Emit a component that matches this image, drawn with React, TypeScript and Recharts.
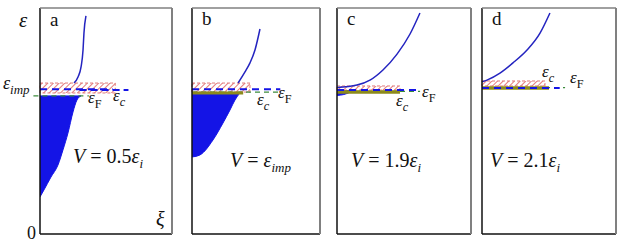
import React from "react";
import { ComposedChart, Line, Area, XAxis, YAxis, ReferenceLine, ReferenceArea } from "recharts";

// impurity level, shared by all panels (fraction of panel height)
const epsImp = 0.646;

// panel a
const aFillXi = [0, 0.03, 0.083, 0.136, 0.174, 0.212, 0.25, 0.28, 0.31];
const aFillLo = [0.164, 0.195, 0.252, 0.305, 0.372, 0.447, 0.54, 0.593, 0.611];
const aEF = 0.611;
const aUpXi = [0.258, 0.288, 0.311, 0.326, 0.333, 0.348];
const aUpEps = [0.668, 0.695, 0.739, 0.814, 0.889, 0.965];

// panel b
const bFillXi = [0, 0.0625, 0.164, 0.242, 0.297, 0.336, 0.367];
const bFillLo = [0.341, 0.35, 0.416, 0.491, 0.549, 0.593, 0.619];
const bEF = 0.621;
const bUpXi = [0.36, 0.414, 0.453, 0.492, 0.531];
const bUpEps = [0.668, 0.717, 0.757, 0.814, 0.907];

// panel c
const cFillXi = [0, 0.05, 0.1];
const cFillLo = [0.613, 0.617, 0.628];
const cEF = 0.635;
const cUpXi = [0, 0.149, 0.246, 0.343, 0.448, 0.545, 0.619];
const cUpEps = [0.648, 0.659, 0.681, 0.726, 0.796, 0.885, 0.978];

// panel d
const dUpXi = [0, 0.037, 0.134, 0.231, 0.336, 0.433, 0.507];
const dUpEps = [0.673, 0.681, 0.712, 0.757, 0.814, 0.889, 0.978];

const BLUE = "#1414e6";
const LINE = "#2424c0";
const OLIVE = "#8c8a1c";
const GREEN = "#3c8c3c";

const toRows = (xs: number[], ys: number[]) => xs.map((xi, i) => ({ xi, e: ys[i] }));
const toRange = (xs: number[], lo: number[], hi: number) =>
  xs.map((xi, i) => ({ xi, r: [lo[i], hi] }));

type Band = { x2: number; y1: number; y2: number };
type Seg = { x1: number; x2: number; y: number; color: string; dash?: string; w?: number };

type PanelProps = {
  left: number;
  width: number;
  fill?: { xi: number; r: number[] }[];
  upper: { xi: number; e: number }[];
  band: Band;
  segs: Seg[];
};

const ML = 10;

function Panel({ left, width, fill, upper, band, segs }: PanelProps) {
  return (
    <div style={{ position: "absolute", left: left - ML, top: 4 }}>
      <ComposedChart width={width + ML + 4} height={234} margin={{ top: 4, right: 4, bottom: 4, left: ML }}>
        <XAxis dataKey="xi" type="number" domain={[0, 1]} hide allowDataOverflow />
        <YAxis type="number" domain={[0, 1]} hide allowDataOverflow />
        {fill && (
          <Area
            data={fill}
            dataKey="r"
            type="monotone"
            stroke={BLUE}
            strokeWidth={1}
            fill={BLUE}
            fillOpacity={1}
            isAnimationActive={false}
          />
        )}
        {segs.map((s, i) => (
          <ReferenceLine
            key={i}
            segment={[{ x: s.x1, y: s.y }, { x: s.x2, y: s.y }]}
            stroke={s.color}
            strokeWidth={s.w ?? 1.5}
            strokeDasharray={s.dash}
            ifOverflow="visible"
          />
        ))}
        <ReferenceArea
          x1={0}
          x2={band.x2}
          y1={band.y1}
          y2={band.y2}
          fill="url(#hatch)"
          fillOpacity={1}
          stroke="#e07a7a"
          strokeDasharray="3 2"
          strokeWidth={1}
        />
        <Line
          data={upper}
          dataKey="e"
          type="monotone"
          stroke={LINE}
          strokeWidth={1.5}
          dot={false}
          isAnimationActive={false}
        />
        <ReferenceLine x={0} stroke="#111" strokeWidth={1.5} />
        <ReferenceLine y={0} stroke="#111" strokeWidth={1.5} />
        <ReferenceLine x={1} stroke="#808080" strokeWidth={2} />
        <ReferenceLine y={1} stroke="#808080" strokeWidth={1.5} />
      </ComposedChart>
    </div>
  );
}

const serif = "Liberation Serif, Times New Roman, DejaVu Serif, serif";

function Eps({ x, y, sub, size = 17, roman = false }: { x: number; y: number; sub: string; size?: number; roman?: boolean }) {
  return (
    <text x={x} y={y} style={{ fontFamily: serif }} fontSize={size} fill="#111">
      <tspan fontStyle="italic">ε</tspan>
      <tspan dy={size * 0.3} fontSize={size * 0.72} fontStyle={roman ? "normal" : "italic"}>
        {sub}
      </tspan>
    </text>
  );
}

function VLabel({ x, y, pre, sub }: { x: number; y: number; pre: string; sub: string }) {
  return (
    <text x={x} y={y} style={{ fontFamily: serif }} fontSize={20} fill="#111">
      <tspan fontStyle="italic">V</tspan>
      <tspan>{" = " + pre}</tspan>
      <tspan fontStyle="italic">ε</tspan>
      <tspan dy={5} fontSize={13} fontStyle="italic">
        {sub}
      </tspan>
    </text>
  );
}

export default function App() {
  return (
    <div style={{ position: "absolute", left: 0, top: 0, width: 624, height: 249, background: "#fff", overflow: "hidden" }}>
      <svg width={0} height={0} style={{ position: "absolute" }}>
        <defs>
          <pattern id="hatch" width={4} height={4} patternUnits="userSpaceOnUse" patternTransform="rotate(45)">
            <rect width={4} height={4} fill="#fff" fillOpacity={0.6} />
            <line x1={0} y1={0} x2={0} y2={4} stroke="#e06a6a" strokeWidth={1.8} />
          </pattern>
        </defs>
      </svg>

      <Panel
        left={40}
        width={132}
        fill={toRange(aFillXi, aFillLo, aEF)}
        upper={toRows(aUpXi, aUpEps)}
        band={{ x2: 0.57, y1: 0.624, y2: 0.668 }}
        segs={[
          { x1: -0.05, x2: 0.37, y: aEF, color: GREEN, dash: "5 4", w: 1.2 },
          { x1: 0.0, x2: 0.55, y: 0.64, color: BLUE, dash: "7 5", w: 2 },
          { x1: 0.3, x2: 0.67, y: 0.637, color: BLUE, dash: "7 4", w: 2 },
        ]}
      />
      <Panel
        left={192}
        width={128}
        fill={toRange(bFillXi, bFillLo, bEF)}
        upper={toRows(bUpXi, bUpEps)}
        band={{ x2: 0.453, y1: 0.628, y2: 0.668 }}
        segs={[
          { x1: 0, x2: 0.7, y: 0.628, color: GREEN, dash: "5 4", w: 1.2 },
          { x1: 0, x2: 0.4, y: 0.624, color: OLIVE, w: 3 },
          { x1: 0.0, x2: 0.69, y: 0.64, color: BLUE, dash: "7 5", w: 2 },
        ]}
      />
      <Panel
        left={337}
        width={134}
        fill={toRange(cFillXi, cFillLo, cEF)}
        upper={toRows(cUpXi, cUpEps)}
        band={{ x2: 0.47, y1: 0.637, y2: 0.655 }}
        segs={[
          { x1: 0, x2: 0.62, y: 0.631, color: GREEN, dash: "5 4", w: 1.2 },
          { x1: 0, x2: 0.47, y: 0.628, color: OLIVE, w: 3.5 },
          { x1: 0, x2: 0.6, y: 0.637, color: BLUE, dash: "7 5", w: 2 },
        ]}
      />
      <Panel
        left={482}
        width={134}
        upper={toRows(dUpXi, dUpEps)}
        band={{ x2: 0.47, y1: 0.655, y2: 0.677 }}
        segs={[
          { x1: 0, x2: 0.62, y: 0.648, color: GREEN, dash: "5 4", w: 1.2 },
          { x1: 0, x2: 0.5, y: 0.646, color: OLIVE, w: 3.5 },
          { x1: 0, x2: 0.58, y: 0.646, color: BLUE, dash: "7 5", w: 2 },
        ]}
      />

      {/* impurity level across all panels */}
      <div style={{ position: "absolute", left: 0, top: 0 }}>
        <ComposedChart width={624} height={249} margin={{ top: 8, right: 16, bottom: 15, left: 40 }}>
          <XAxis type="number" domain={[0, 1]} hide />
          <YAxis type="number" domain={[0, 1]} hide />
          <ReferenceLine y={epsImp} stroke="#e8504a" strokeWidth={1.5} strokeDasharray="6 4" />
        </ComposedChart>
      </div>

      <svg width={624} height={249} style={{ position: "absolute", left: 0, top: 0, fontFamily: serif }}>
        <text x={19} y={27} fontSize={21} fontStyle="italic" fill="#111">ε</text>
        <text x={27} y={239} fontSize={18} fill="#111">0</text>
        <text x={156} y={226} fontSize={20} fontStyle="italic" fill="#111">ξ</text>
        <text x={50} y={26} fontSize={19} fill="#111">a</text>
        <text x={202} y={25} fontSize={19} fill="#111">b</text>
        <text x={347} y={25} fontSize={19} fill="#111">c</text>
        <text x={492} y={25} fontSize={19} fill="#111">d</text>

        <Eps x={3} y={89} sub="imp" size={18} />
        <Eps x={88} y={103} sub="F" roman />
        <Eps x={113} y={101} sub="c" />
        <Eps x={257} y={105} sub="c" />
        <Eps x={278} y={98} sub="F" roman />
        <Eps x={396} y={106} sub="c" />
        <Eps x={422} y={97} sub="F" roman />
        <Eps x={542} y={77} sub="c" />
        <Eps x={570} y={83} sub="F" roman />

        <VLabel x={73} y={163} pre="0.5" sub="i" />
        <VLabel x={230} y={167} pre="" sub="imp" />
        <VLabel x={351} y={167} pre="1.9" sub="i" />
        <VLabel x={490} y={167} pre="2.1" sub="i" />
      </svg>
    </div>
  );
}
